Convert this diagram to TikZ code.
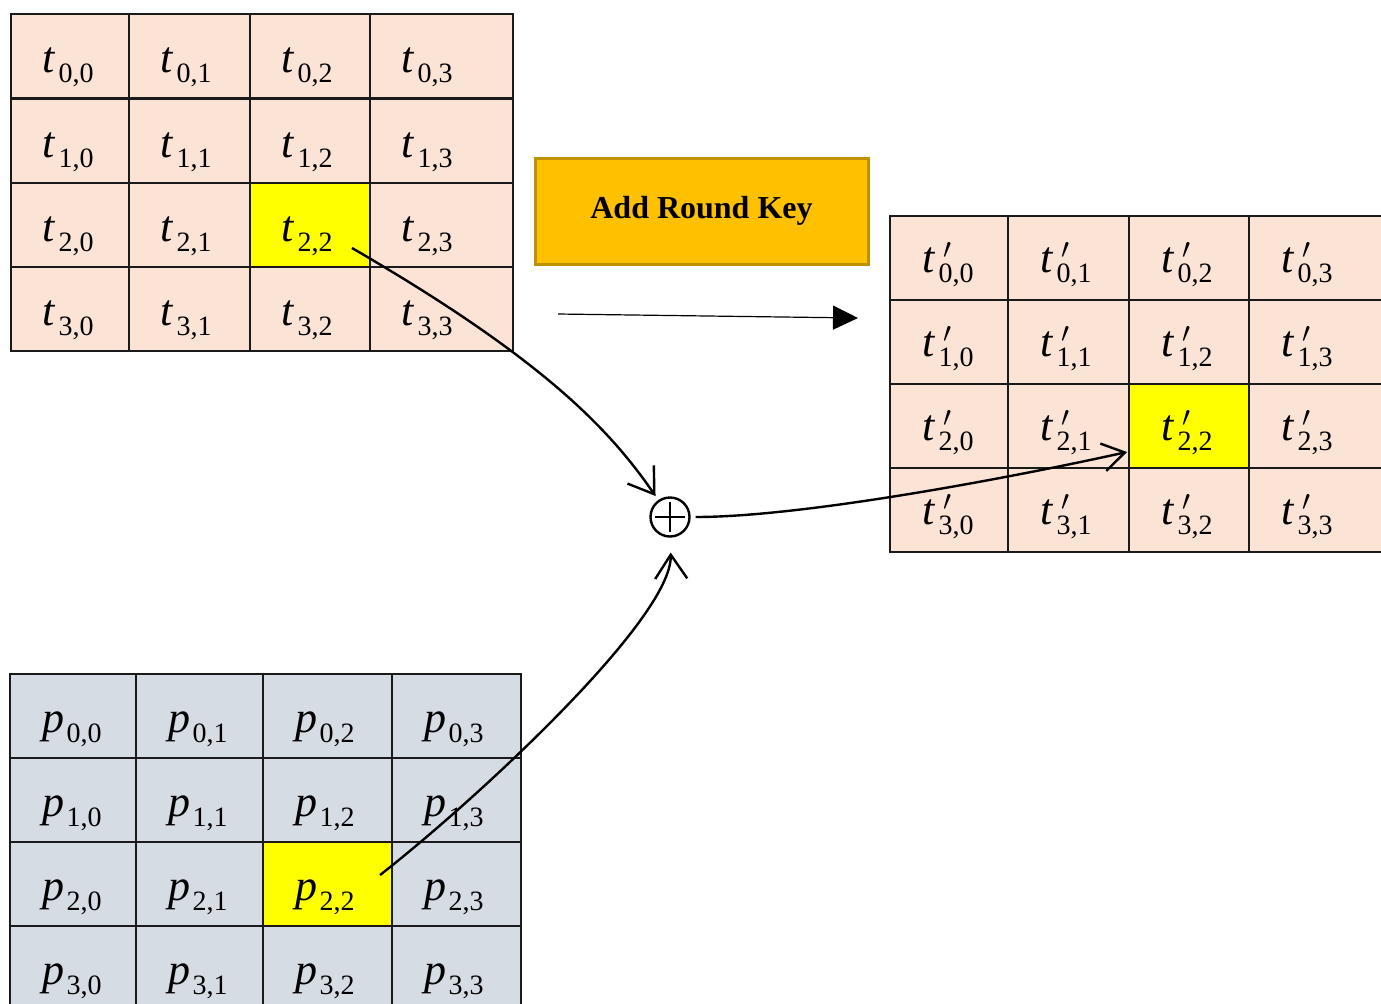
\documentclass[tikz,border=0pt]{standalone}
\usepackage{fontspec}
\setmainfont{Liberation Serif}
\usetikzlibrary{arrows.meta,calc}

\definecolor{statefill}{HTML}{FBE3D6}
\definecolor{keyfill}{HTML}{D6DCE4}
\definecolor{hilite}{HTML}{FFFF00}
\definecolor{opfill}{HTML}{FFC000}
\definecolor{opedge}{HTML}{BF9000}
\definecolor{gridline}{HTML}{1A1A1A}

% matrix entries: italic letter, lowered index, optional prime
\newcommand\subidx[1]{\raisebox{-5pt}{\fontsize{14}{14}\selectfont #1}}
\newcommand\tsym[1]{\textit{t}\kern1.5pt\subidx{#1}}
\newcommand\psym[1]{\textit{p}\kern1pt\subidx{#1}}
\newcommand\tpsym[1]{\textit{t}\kern1.5pt\rlap{\kern2.5pt\raisebox{7pt}{\fontsize{15}{15}\selectfont$\prime$}}\subidx{#1}}

\begin{document}
\begin{tikzpicture}[x=0.5pt,y=-0.5pt,
  cellbox/.style={draw=gridline, line width=0.8pt, inner sep=0pt, outer sep=0pt,
    anchor=north west, minimum height=42pt},
  celltext/.style={anchor=base, inner sep=0pt, font=\fontsize{22}{22}\selectfont},
  link/.style={line width=1.2pt, -{Straight Barb[length=12pt,width=16pt]}}]
\useasboundingbox (0,0) rectangle (1381,1003);

% state matrix t
\foreach \r/\y in {0/14,1/99,2/183,3/267}{
  \foreach \c/\x/\w in {0/11/118,1/129/121,2/250/120,3/370/143}{
    \ifnum\r\c=22 \def\cf{hilite}\else\def\cf{statefill}\fi
    \node[cellbox, fill=\cf, minimum width=\w*0.5pt] (T-\r-\c) at (\x,\y) {};
    \node[celltext] (T-\r-\c-txt) at (\x+57,\y+58) {\tsym{\r,\c}};
  }}

% round key matrix p
\foreach \r/\y in {0/674,1/758,2/842,3/926}{
  \foreach \c/\x/\w in {0/10/126,1/136/127,2/263/129,3/392/129}{
    \ifnum\r\c=22 \def\cf{hilite}\else\def\cf{keyfill}\fi
    \node[cellbox, fill=\cf, minimum width=\w*0.5pt] (P-\r-\c) at (\x,\y) {};
    \node[celltext] (P-\r-\c-txt) at (\x+62,\y+58) {\psym{\r,\c}};
  }}

% resulting state matrix t'
\foreach \r/\y in {0/216,1/300,2/384,3/468}{
  \foreach \c/\x/\w in {0/890/118,1/1008/121,2/1129/120,3/1249/141}{
    \ifnum\r\c=22 \def\cf{hilite}\else\def\cf{statefill}\fi
    \node[cellbox, fill=\cf, minimum width=\w*0.5pt] (U-\r-\c) at (\x,\y) {};
    \node[celltext] (U-\r-\c-txt) at (\x+58,\y+56) {\tpsym{\r,\c}};
  }}

% operation label and direction arrow
\node[draw=opedge, fill=opfill, line width=1.5pt, minimum width=166.5pt,
  minimum height=53pt, inner sep=0pt, font=\bfseries\fontsize{16}{16}\selectfont]
  (op) at (701.5,211) {Add Round Key};
\coordinate (flowS) at (558,314);
\coordinate (flowE) at (858,318);
\draw[line width=0.6pt, -{Triangle[length=12.5pt,width=12pt]}] (flowS) -- (flowE);

% XOR symbol
\node[circle, draw, line width=1.2pt, minimum size=19.5pt, inner sep=0pt, outer sep=3pt]
  (xor) at (670,517) {};
\draw[line width=1.2pt] ($(xor.center)+(0,-15)$) -- ($(xor.center)+(0,15)$)
  ($(xor.center)+(-15,0)$) -- ($(xor.center)+(15,0)$);

% connectors
\coordinate (tsrc) at ($(T-2-2.center)+(42,23)$);
\coordinate (psrc) at ($(P-2-2.center)+(52.5,-9)$);
\coordinate (usink) at ($(U-2-2.west)+(-2,26)$);
\draw[link] (tsrc) .. controls (545,360) and (610,430) .. (xor);
\draw[link, shorten >=5pt] (psrc) .. controls (470,805) and (672,620) .. (xor);
\draw[line width=1.2pt, -{Straight Barb[length=11pt,width=14pt]}]
  (xor) .. controls (800,517) and (1000,480) .. (usink);
\end{tikzpicture}
\end{document}
